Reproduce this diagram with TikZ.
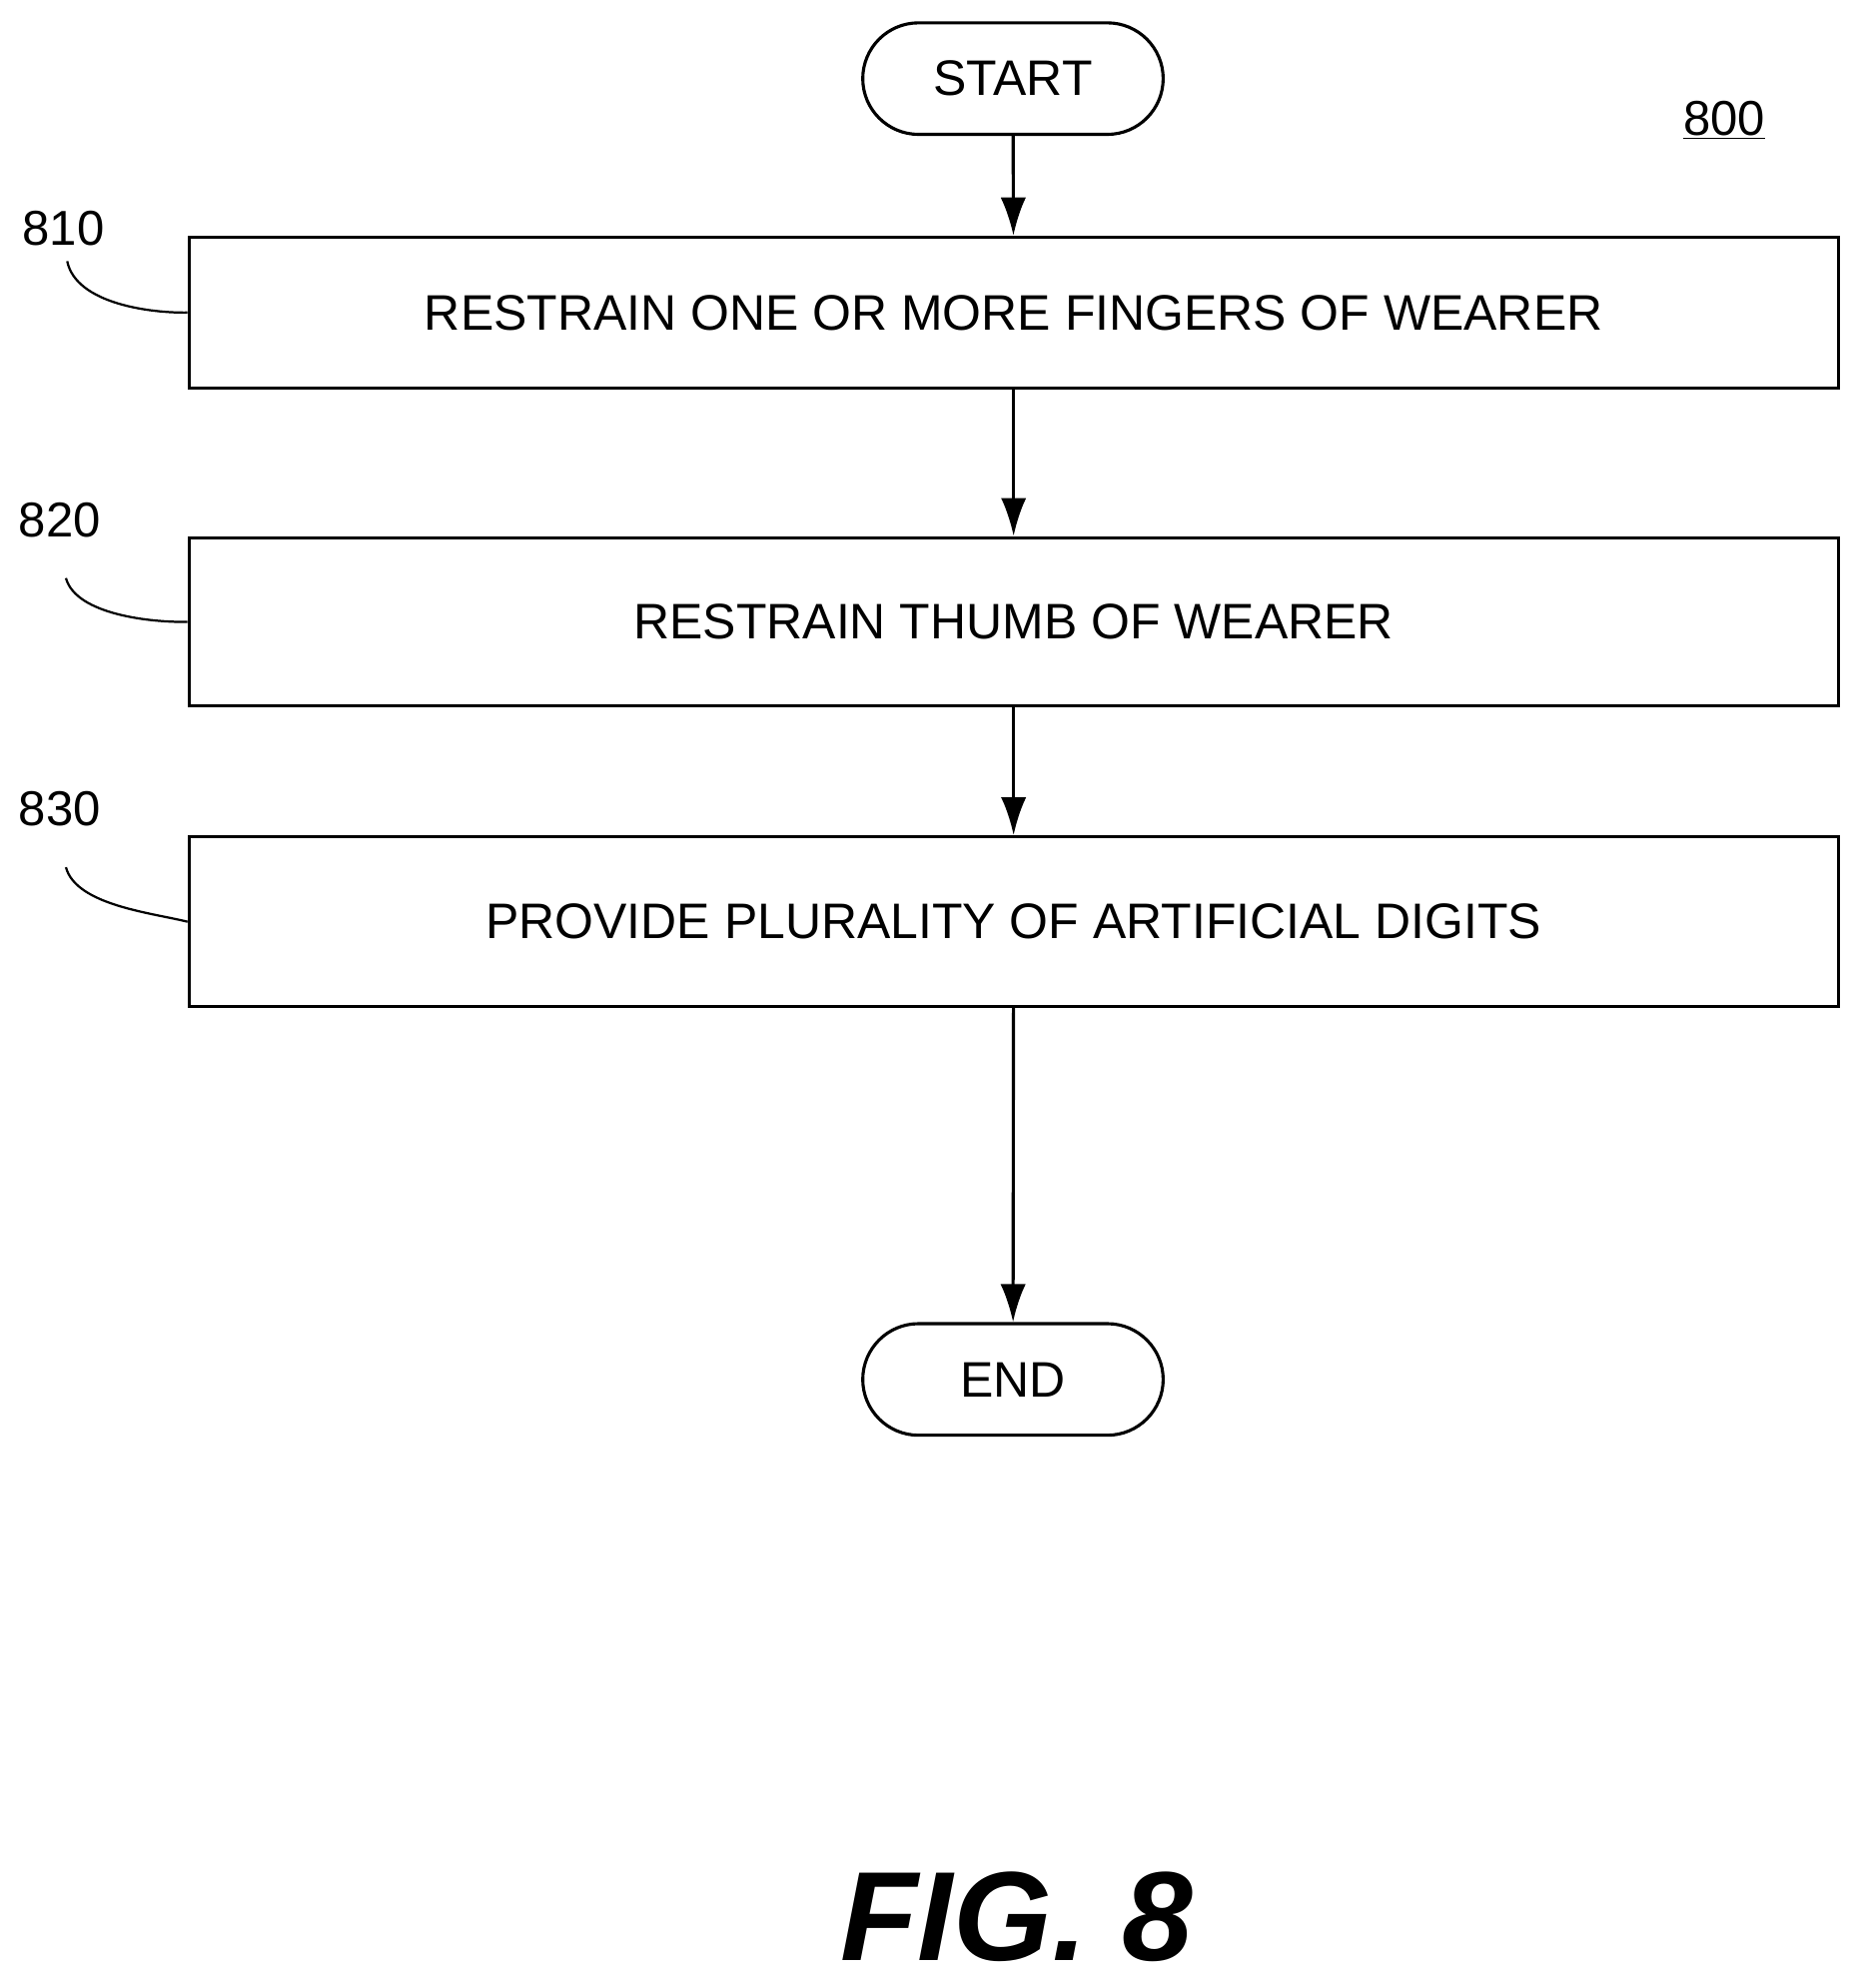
\documentclass[tikz,border=0pt]{standalone}
\usepackage{fontspec}
\setmainfont{Liberation Sans}
\usetikzlibrary{arrows.meta}
\begin{document}
\begin{tikzpicture}[x=0.02cm,y=-0.02cm,line width=1.4pt,
  box/.style={draw,minimum width=26.02cm,font=\fontsize{22.4}{26}\selectfont},
  term/.style={draw,rounded corners=0.88cm,minimum width=4.74cm,minimum height=1.76cm,font=\fontsize{22.4}{26}\selectfont},
  lbl/.style={font=\fontsize{22}{26}\selectfont},
  arr/.style={-{Latex[length=0.6cm,width=0.4cm]}},
  lead/.style={line width=1pt}]
\useasboundingbox (0,0) rectangle (1468,1568);
\node[term] (start) at (799,62) {START};
\node[lbl] (n800) at (1360,95) {\underline{800}};
\node[box,minimum height=2.38cm] (b1) at (799.5,246.5) {RESTRAIN ONE OR MORE FINGERS OF WEARER};
\node[box,minimum height=2.66cm] (b2) at (799.5,490.5) {RESTRAIN THUMB OF WEARER};
\node[box,minimum height=2.68cm] (b3) at (799.5,727) {PROVIDE PLURALITY OF ARTIFICIAL DIGITS};
\node[term] (end) at (799,1088) {END};
\node[lbl] (l1) at (50,180) {810};
\node[lbl] (l2) at (47,410) {820};
\node[lbl] (l3) at (47,638) {830};
\node[font=\fontsize{57}{64}\selectfont\bfseries\itshape] (fig) at (802,1512) {FIG. 8};
\draw[arr] (start) -- (b1);
\draw[arr] (b1) -- (b2);
\draw[arr] (b2) -- (b3);
\draw[arr] (b3) -- (end);
\coordinate (c1) at (53,206); \coordinate (c2) at (52,456); \coordinate (c3) at (52,684);
\draw[lead] (c1) .. controls (60,240) and (120,247) .. (b1.west);
\draw[lead] (c2) .. controls (60,485) and (120,491) .. (b2.west);
\draw[lead] (c3) .. controls (60,714) and (120,720) .. (b3.west);
\end{tikzpicture}
\end{document}
